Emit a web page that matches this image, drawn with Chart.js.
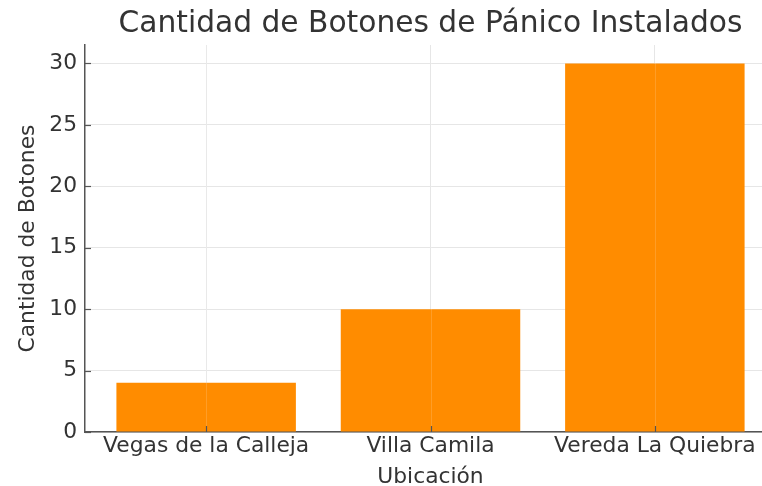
<!DOCTYPE html>
<html lang="es">
<head>
<meta charset="UTF-8">
<title>Botones de Pánico</title>
<style>
    html, body { margin: 0; padding: 0; background: #fff; overflow: hidden; }
    .wrap { width: 800px; height: 490px; }
</style>
</head>
<body>
<div class="wrap"><canvas id="chart" width="800" height="490"></canvas></div>
<script src="https://cdn.jsdelivr.net/npm/chart.js@4.4.0/dist/chart.umd.min.js"></script>
<script>
(function () {
    'use strict';

    // datos
    const ubicaciones = ['Vegas de la Calleja', 'Villa Camila', 'Vereda La Quiebra'];
    const botones = [4, 10, 30];
    const yTicks = [0, 5, 10, 15, 20, 25, 30];

    const naranja = '#ff8c00';
    const texto = '#333';
    const grid = '#e6e6e6';
    const eje = '#555';
    const fs = 21.8;

    Chart.defaults.font.family = '"DejaVu Sans", sans-serif';
    Chart.defaults.color = texto;

    // ticks hacia adentro (como matplotlib) y rejilla tenue encima de las barras
    const ticksAdentro = {
        id: 'ticksAdentro',
        afterDatasetsDraw: function (chart) {
            const c = chart.ctx;
            const a = chart.chartArea;
            const sx = chart.scales.x, sy = chart.scales.y;
            c.save();
            c.strokeStyle = 'rgba(255,255,255,0.15)';
            c.lineWidth = 1;
            sx.ticks.forEach(function (t) {
                const px = Math.round(sx.getPixelForValue(t.value)) + 0.5;
                c.beginPath(); c.moveTo(px, a.top); c.lineTo(px, a.bottom); c.stroke();
            });
            c.strokeStyle = eje;
            c.lineWidth = 1.2;
            sx.ticks.forEach(function (t) {
                const px = Math.round(sx.getPixelForValue(t.value)) + 0.5;
                c.beginPath(); c.moveTo(px, a.bottom); c.lineTo(px, a.bottom - 6); c.stroke();
            });
            sy.ticks.forEach(function (t) {
                const py = Math.round(sy.getPixelForValue(t.value)) + 0.5;
                c.beginPath(); c.moveTo(a.left, py); c.lineTo(a.left + 6, py); c.stroke();
            });
            c.restore();
        }
    };

    const ctx = document.getElementById('chart').getContext('2d');

    new Chart(ctx, {
        type: 'bar',
        data: {
            datasets: [{
                data: botones.map(function (v, i) { return { x: i, y: v }; }),
                backgroundColor: naranja,
                borderWidth: 0,
                barPercentage: 0.8,
                categoryPercentage: 1
            }]
        },
        plugins: [ticksAdentro],
        options: {
            responsive: false,
            animation: false,
            devicePixelRatio: 1,
            layout: { padding: { left: 0, right: 24, top: 0, bottom: 0 } },
            plugins: {
                legend: { display: false },
                tooltip: { enabled: false },
                title: {
                    display: true,
                    fullSize: false,
                    text: 'Cantidad de Botones de Pánico Instalados',
                    font: { size: 29.7, weight: 'normal' },
                    color: texto,
                    padding: { top: 6.7, bottom: 2.7 }
                }
            },
            scales: {
                x: {
                    type: 'linear',
                    offset: false,
                    min: -0.54,
                    max: 2.54,
                    afterBuildTicks: function (s) {
                        s.ticks = ubicaciones.map(function (_, i) { return { value: i }; });
                    },
                    afterFit: function (s) { s.height = 58; },
                    ticks: {
                        font: { size: fs },
                        color: texto,
                        padding: 1,
                        maxRotation: 0,
                        autoSkip: false,
                        callback: function (v) { return ubicaciones[v]; }
                    },
                    grid: { color: grid, offset: false, drawTicks: false, lineWidth: 1 },
                    border: { color: eje, width: 1.5 },
                    title: {
                        display: true,
                        text: 'Ubicación',
                        font: { size: fs },
                        color: texto,
                        padding: { top: 0, bottom: 0 }
                    }
                },
                y: {
                    min: 0,
                    max: 31.5,
                    afterBuildTicks: function (s) {
                        s.ticks = yTicks.map(function (v) { return { value: v }; });
                    },
                    afterFit: function (s) { s.width = 85; },
                    ticks: {
                        font: { size: fs },
                        color: texto,
                        padding: 8
                    },
                    grid: { color: grid, drawTicks: false, lineWidth: 1 },
                    border: { color: eje, width: 1.5 },
                    title: {
                        display: true,
                        text: 'Cantidad de Botones',
                        font: { size: fs },
                        color: texto,
                        padding: { top: 15.6, bottom: 0 }
                    }
                }
            }
        }
    });
})();
</script>
</body>
</html>
